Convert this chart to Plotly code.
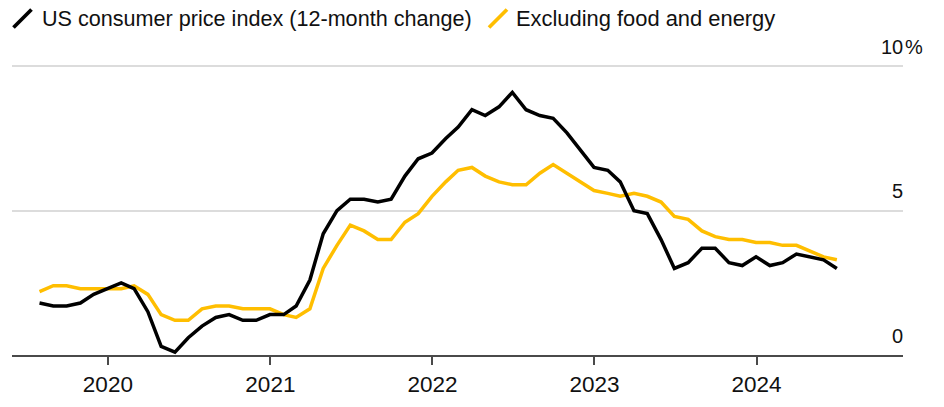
import pandas as pd
import plotly.graph_objects as go

# ---- data (monthly, 12-month % change) ----
months = pd.period_range("2019-07", "2024-06", freq="M").strftime("%Y-%m").tolist()

cpi = [1.8, 1.7, 1.7, 1.8, 2.1, 2.3,
       2.5, 2.3, 1.5, 0.3, 0.1, 0.6, 1.0, 1.3, 1.4, 1.2, 1.2, 1.4,
       1.4, 1.7, 2.6, 4.2, 5.0, 5.4, 5.4, 5.3, 5.4, 6.2, 6.8, 7.0,
       7.5, 7.9, 8.5, 8.3, 8.6, 9.1, 8.5, 8.3, 8.2, 7.7, 7.1, 6.5,
       6.4, 6.0, 5.0, 4.9, 4.0, 3.0, 3.2, 3.7, 3.7, 3.2, 3.1, 3.4,
       3.1, 3.2, 3.5, 3.4, 3.3, 3.0]

core = [2.2, 2.4, 2.4, 2.3, 2.3, 2.3,
        2.3, 2.4, 2.1, 1.4, 1.2, 1.2, 1.6, 1.7, 1.7, 1.6, 1.6, 1.6,
        1.4, 1.3, 1.6, 3.0, 3.8, 4.5, 4.3, 4.0, 4.0, 4.6, 4.9, 5.5,
        6.0, 6.4, 6.5, 6.2, 6.0, 5.9, 5.9, 6.3, 6.6, 6.3, 6.0, 5.7,
        5.6, 5.5, 5.6, 5.5, 5.3, 4.8, 4.7, 4.3, 4.1, 4.0, 4.0, 3.9,
        3.9, 3.8, 3.8, 3.6, 3.4, 3.3]

series_names = ["US consumer price index (12-month change)", "Excluding food and energy"]
y_ticks = [0, 5, 10]
y_tick_labels = ["0", "5", "10"]

# observations plotted at month end
dates = pd.to_datetime(months, format="%Y-%m") + pd.offsets.MonthEnd(0)

BLACK = "#000000"
YELLOW = "#FFBE00"
FONT = "Liberation Sans, Arial, Helvetica, sans-serif"
TXT = "#111111"

W, H = 944, 407
# plot area in window pixels: x 12..903, y 65..355
L, R, T, B = 12, W - 903, 65, H - 355
pw, ph = W - L - R, H - T - B

def px_x(p):  # window px -> paper
    return (p - L) / pw

def px_y(p):
    return (H - B - p) / ph

fig = go.Figure()
fig.add_trace(go.Scatter(x=dates, y=core, mode="lines", name=series_names[1],
                         line=dict(color=YELLOW, width=3.5), hoverinfo="x+y"))
fig.add_trace(go.Scatter(x=dates, y=cpi, mode="lines", name=series_names[0],
                         line=dict(color=BLACK, width=3.5), hoverinfo="x+y"))

annotations = []
for v, lab in zip(y_ticks, y_tick_labels):
    annotations.append(dict(xref="paper", yref="y", x=px_x(904), y=v, text=lab,
                            showarrow=False, xanchor="right", yanchor="middle",
                            yshift=19.5, borderpad=0,
                            font=dict(family=FONT, size=20, color=TXT)))
annotations.append(dict(xref="paper", yref="y", x=px_x(904), y=10, text="%",
                        showarrow=False, xanchor="left", yanchor="middle",
                        yshift=19.5, borderpad=0,
                        font=dict(family=FONT, size=20, color=TXT)))

# legend texts
annotations.append(dict(xref="paper", yref="paper", x=px_x(40.5), y=px_y(19),
                        text=series_names[0], showarrow=False, xanchor="left",
                        yanchor="middle", borderpad=0,
                        font=dict(family=FONT, size=21.6, color=TXT)))
annotations.append(dict(xref="paper", yref="paper", x=px_x(514.5), y=px_y(19),
                        text=series_names[1], showarrow=False, xanchor="left",
                        yanchor="middle", borderpad=0,
                        font=dict(family=FONT, size=21.9, color=TXT)))

shapes = [
    dict(type="line", xref="paper", yref="paper",
         x0=px_x(13.5), y0=px_y(27.5), x1=px_x(31.5), y1=px_y(9.5),
         line=dict(color=BLACK, width=3.8)),
    dict(type="line", xref="paper", yref="paper",
         x0=px_x(489), y0=px_y(27.5), x1=px_x(507), y1=px_y(9.5),
         line=dict(color=YELLOW, width=3.8)),
]

fig.update_layout(
    width=W, height=H,
    margin=dict(l=L, r=R, t=T, b=B, autoexpand=False),
    paper_bgcolor="white", plot_bgcolor="white",
    showlegend=False,
    font=dict(family=FONT, size=20, color=TXT),
    annotations=annotations,
    shapes=shapes,
    xaxis=dict(
        type="date",
        range=["2019-05-30", "2024-11-26"],
        tick0="2020-01-01", dtick="M12", tickformat="%Y",
        ticks="outside", ticklen=8, tickwidth=1.5, tickcolor="#4a4a4a",
        showline=True, linecolor="#4a4a4a", linewidth=2,
        showgrid=False, zeroline=False,
        tickfont=dict(family=FONT, size=22.5, color=TXT),
        ticklabelstandoff=0,
        automargin=False,
        fixedrange=True,
    ),
    yaxis=dict(
        range=[0, 10.05],
        tickvals=y_ticks,
        showticklabels=False,
        showgrid=True, gridcolor="#dcdcdc", gridwidth=1.5,
        zeroline=False, showline=False, ticks="",
        automargin=False,
        fixedrange=True,
    ),
)

# remove the default page margin so the figure fills the window exactly
fig.write_html("out.html",
               config={"displayModeBar": False},
               post_script="document.body.style.margin='0';document.body.style.overflow='hidden';")
